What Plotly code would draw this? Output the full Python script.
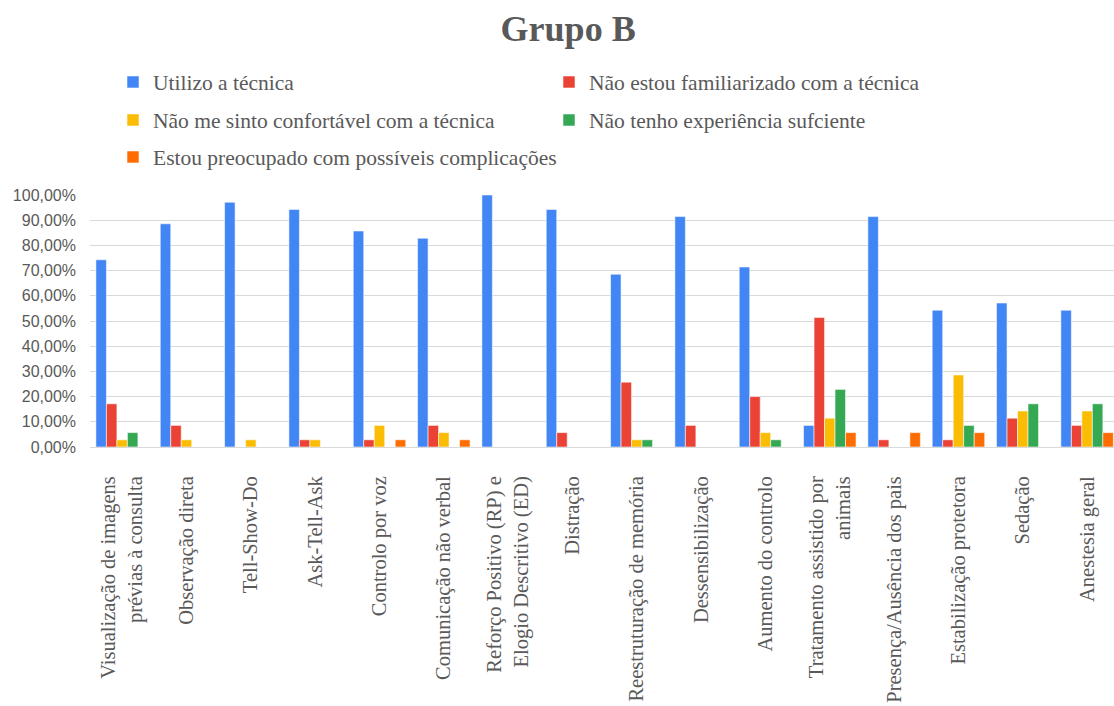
import plotly.graph_objects as go

# Techniques (x categories)
categories = [
    "Visualização de imagens<br>prévias à consulta",
    "Observação direta",
    "Tell-Show-Do",
    "Ask-Tell-Ask",
    "Controlo por voz",
    "Comunicação não verbal",
    "Reforço Positivo (RP) e<br>Elogio Descritivo (ED)",
    "Distração",
    "Reestruturação de memória",
    "Dessensibilização",
    "Aumento do controlo",
    "Tratamento assistido por<br>animais",
    "Presença/Ausência dos pais",
    "Estabilização protetora",
    "Sedação",
    "Anestesia geral",
]

# Share of respondents per answer (fractions)
utilizo = [0.7429, 0.8857, 0.9714, 0.9429, 0.8571, 0.8286, 1.0, 0.9429,
           0.6857, 0.9143, 0.7143, 0.0857, 0.9143, 0.5429, 0.5714, 0.5429]
nao_familiarizado = [0.1714, 0.0857, 0.0, 0.0286, 0.0286, 0.0857, 0.0, 0.0571,
                     0.2571, 0.0857, 0.2000, 0.5143, 0.0286, 0.0286, 0.1143, 0.0857]
nao_confortavel = [0.0286, 0.0286, 0.0286, 0.0286, 0.0857, 0.0571, 0.0, 0.0,
                   0.0286, 0.0, 0.0571, 0.1143, 0.0, 0.2857, 0.1429, 0.1429]
sem_experiencia = [0.0571, 0.0, 0.0, 0.0, 0.0, 0.0, 0.0, 0.0,
                   0.0286, 0.0, 0.0286, 0.2286, 0.0, 0.0857, 0.1714, 0.1714]
preocupado = [0.0, 0.0, 0.0, 0.0, 0.0286, 0.0286, 0.0, 0.0,
              0.0, 0.0, 0.0, 0.0571, 0.0571, 0.0571, 0.0, 0.0571]

series_names = [
    "Utilizo a técnica",
    "Não estou familiarizado com a técnica",
    "Não me sinto confortável com a técnica",
    "Não tenho experiência sufciente",
    "Estou preocupado com possíveis complicações",
]
series_values = [utilizo, nao_familiarizado, nao_confortavel, sem_experiencia, preocupado]
colors = ["#4285F4", "#EA4335", "#FBBC04", "#34A853", "#FF6D01"]
legend_ids = ["legend", "legend", "legend2", "legend2", "legend3"]

y_ticks = [i / 10 for i in range(11)]
y_tick_labels = [f"{i * 10},00%" for i in range(11)]

SERIF = "Liberation Serif"
TEXT_GREY = "#595959"

fig = go.Figure()
for name, vals, col, lg in zip(series_names, series_values, colors, legend_ids):
    fig.add_trace(go.Bar(
        name=name,
        x=categories,
        y=vals,
        marker=dict(color=col, line=dict(color="rgba(255,255,255,0.55)", width=1)),
        legend=lg,
    ))

PLOT_L, PLOT_R, PLOT_T, PLOT_B = 90, 1114, 195, 447
W, H = 1114, 706
cat_px = 64.33
x_max = -0.5 + (PLOT_R - PLOT_L) / cat_px


def py(pix):
    return (PLOT_B - pix) / (PLOT_B - PLOT_T)


def px(pix):
    return (pix - PLOT_L) / (PLOT_R - PLOT_L)


def legend_row(x, y, entry_w=391):
    return dict(
        x=x, y=y,
        orientation="h",
        entrywidth=entry_w,
        entrywidthmode="pixels",
        font=dict(family=SERIF, size=21.5, color=TEXT_GREY),
        bgcolor="rgba(0,0,0,0)",
        itemwidth=30,
        xanchor="left",
        yanchor="middle",
        traceorder="normal",
    )


fig.update_layout(
    width=W,
    height=H,
    font=dict(family=SERIF, color=TEXT_GREY),
    margin=dict(l=PLOT_L, r=W - PLOT_R, t=PLOT_T, b=H - PLOT_B, pad=0),
    paper_bgcolor="white",
    plot_bgcolor="white",
    barmode="group",
    bargap=0.184,
    bargroupgap=0,
    title=dict(
        text="<b>Grupo B</b>",
        x=0.51, xref="container", xanchor="center",
        y=1 - 28 / H, yref="container", yanchor="middle",
        font=dict(family=SERIF, size=36, color=TEXT_GREY),
    ),
    legend=legend_row(px(113), py(82)),
    legend2=legend_row(px(113), py(120)),
    legend3=legend_row(px(113), py(157), entry_w=520),
    xaxis=dict(
        range=[-0.5, x_max],
        tickangle=-90,
        ticks="",
        ticklabelstandoff=20,
        tickfont=dict(family=SERIF, size=20.5, color=TEXT_GREY),
        showgrid=False,
        showline=True,
        linecolor="#d9d9d9",
        linewidth=1,
        fixedrange=True,
    ),
    yaxis=dict(
        range=[0, 1],
        tickvals=y_ticks,
        ticktext=y_tick_labels,
        ticks="",
        ticklabelstandoff=13,
        tickfont=dict(family="Liberation Sans", size=16, color=TEXT_GREY),
        showgrid=True,
        gridcolor="#d9d9d9",
        gridwidth=1,
        zeroline=True,
        zerolinecolor="#d9d9d9",
        zerolinewidth=1,
        fixedrange=True,
    ),
    showlegend=True,
)

fig.write_html("out.html")
